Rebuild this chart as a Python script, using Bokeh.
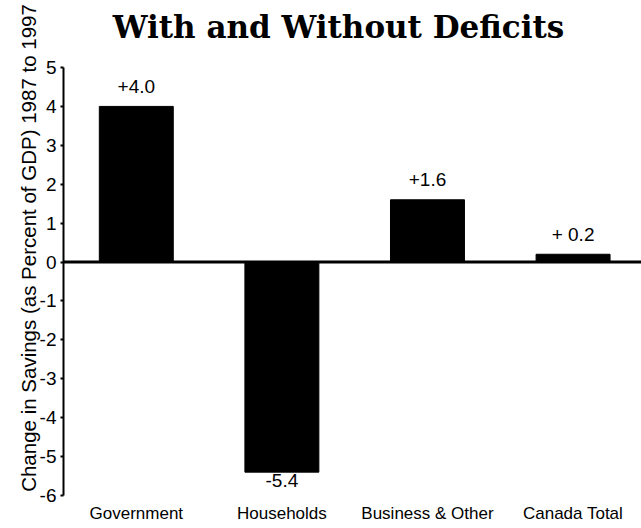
from bokeh.plotting import figure
from bokeh.models import ColumnDataSource, Range1d, FixedTicker, Span, Label
from bokeh.core.properties import value
from bokeh.embed import file_html
from bokeh.resources import INLINE

# ---- data ----
categories = ["Government", "Households", "Business & Other", "Canada Total"]
values = [4.0, -5.4, 1.6, 0.2]
value_labels = ["+4.0", "-5.4", "+1.6", "+ 0.2"]
y_ticks = [-6, -5, -4, -3, -2, -1, 0, 1, 2, 3, 4, 5]
title_text = "With and Without Deficits"
y_label = "Change in Savings (as Percent of GDP) 1987 to 1997"

FONT = "Liberation Sans"

xs = list(range(len(categories)))

# layout: axis spans -6..5 over 428 px; the frame also covers the 67 px title band above
W, H = 641, 528
top_band, frame_bottom_gap = 67, 33
axis_px = H - top_band - frame_bottom_gap
px_per_unit = axis_px / (y_ticks[-1] - y_ticks[0])
y_end = y_ticks[-1] + top_band / px_per_unit

p = figure(width=W, height=H, x_range=Range1d(-0.5, 3.47), y_range=Range1d(y_ticks[0], y_end),
           output_backend="svg", toolbar_location=None,
           min_border_left=63, min_border_right=0, min_border_top=0, min_border_bottom=frame_bottom_gap)
p.background_fill_color = "white"
p.border_fill_color = "white"
p.outline_line_color = None
p.xgrid.visible = False
p.ygrid.visible = False

src = ColumnDataSource(dict(x=xs, v=values, lab=value_labels))
p.vbar(x="x", top="v", bottom=0, width=0.508, source=src, fill_color="black", line_color="black")

pos = [i for i, v in enumerate(values) if v >= 0]
neg = [i for i, v in enumerate(values) if v < 0]
src_pos = ColumnDataSource(dict(x=[xs[i] for i in pos], v=[values[i] for i in pos], lab=[value_labels[i] for i in pos]))
src_neg = ColumnDataSource(dict(x=[xs[i] for i in neg], v=[values[i] for i in neg], lab=[value_labels[i] for i in neg]))
p.text(x="x", y="v", text="lab", source=src_pos, text_align="center", text_baseline="alphabetic",
       y_offset=-20, text_font=value(FONT), text_font_size="19px", text_color="black")
p.text(x="x", y="v", text="lab", source=src_neg, text_align="center", text_baseline="top",
       y_offset=2, text_font=value(FONT), text_font_size="19px", text_color="black")

p.add_layout(Span(location=0, dimension="width", line_color="black", line_width=3))

# title (inside the top band of the frame)
p.add_layout(Label(x=338, y=26, x_units="canvas", y_units="canvas", text=title_text,
                   text_font="DejaVu Serif", text_font_style="bold", text_font_size="31px",
                   text_align="center", text_baseline="alphabetic", text_color="black"))

# y axis
ya = p.yaxis[0]
ya.ticker = FixedTicker(ticks=y_ticks)
ya.bounds = (y_ticks[0], y_ticks[-1])
ya.major_label_overrides = {t: str(t) for t in y_ticks}
ya.axis_line_width = 2
ya.axis_line_color = "black"
ya.major_tick_out = 3
ya.major_tick_in = 0
ya.major_tick_line_width = 2
ya.minor_tick_line_color = None
ya.major_label_text_font = FONT
ya.major_label_text_font_size = "19px"
ya.major_label_text_color = "black"
ya.major_label_standoff = 4
ya.axis_label = y_label
ya.axis_label_text_font = FONT
ya.axis_label_text_font_size = "20.5px"
ya.axis_label_text_font_style = "normal"
ya.axis_label_text_color = "black"
ya.axis_label_standoff = -3

# x axis
xa = p.xaxis[0]
xa.ticker = FixedTicker(ticks=xs)
xa.major_label_overrides = {i: c for i, c in zip(xs, categories)}
xa.axis_line_color = None
xa.major_tick_line_color = None
xa.major_tick_out = 0
xa.major_tick_in = 0
xa.minor_tick_line_color = None
xa.minor_tick_out = 0
xa.axis_label = None
xa.axis_label_standoff = 0
xa.major_label_text_font = FONT
xa.major_label_text_font_size = "17px"
xa.major_label_text_color = "black"
xa.major_label_standoff = 8

open("out.html", "w").write(file_html(p, INLINE))
